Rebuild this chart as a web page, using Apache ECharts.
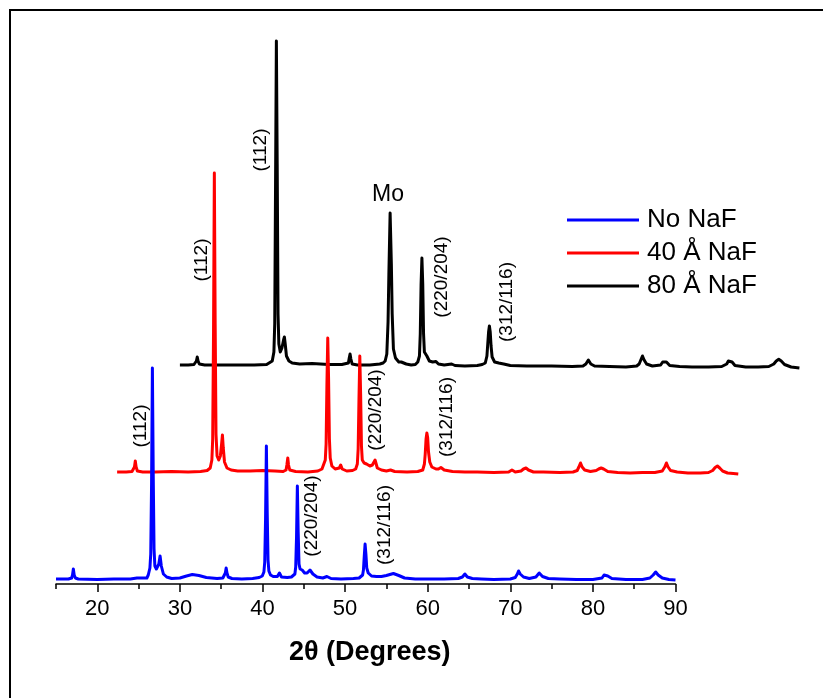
<!DOCTYPE html>
<html>
<head>
<meta charset="utf-8">
<script src="https://cdn.jsdelivr.net/npm/echarts@6/dist/echarts.min.js"></script>
<style>
html,body{margin:0;padding:0;background:#fff;}
#chart{width:823px;height:698px;}
</style>
</head>
<body>
<div id="chart"></div>
<script>
// ---- data (2θ in degrees, intensity in arbitrary offset units) ----
const seriesNames = ['No NaF', '40 Å NaF', '80 Å NaF'];
const majorTicks = [20, 30, 40, 50, 60, 70, 80, 90];
const minorTicks = [15, 25, 35, 45, 55, 65, 75, 85];

const noNaF = [
  [15.0,5],[16.5,5],[16.9,6],[17.0,9],[17.1,15],[17.2,9],[17.35,6],[17.7,5],[20,4.5],[22,5],[24,5],
  [24.8,6],[25,5],[26.0,6],[26.17,9],[26.37,16],[26.47,30],[26.57,100],[26.67,216],[26.77,110],
  [26.87,35],[26.97,18],[27.15,15],[27.3,14],[27.45,20],[27.6,28],[27.75,18],[28.0,10],[28.4,7],
  [29.0,5.5],[30.0,6],[30.8,8],[31.5,9.5],[32.3,8.5],[33.2,6.5],[34.5,5.5],[35.2,6],[35.4,7],[35.5,11],
  [35.6,16],[35.7,11],[35.85,7],[36.3,5.5],[37.5,5],[38.8,5.5],[39.6,6.5],[39.97,8],[40.17,12],
  [40.27,22],[40.37,65],[40.47,138],[40.57,72],[40.67,24],[40.77,13],[40.97,9],[41.3,7.5],[41.8,7.5],
  [42.05,11],[42.3,7],[43.0,6.5],[43.5,7],[43.72,7.5],[43.92,10],[44.02,17],[44.12,47],[44.22,98],
  [44.32,52],[44.42,20],[44.55,15],[44.8,14],[45.1,11],[45.4,11],[45.75,14],[46.1,10],[46.6,7],
  [47.3,6],[47.8,7.5],[48.3,5.5],[49.5,5],[51.0,5.5],[51.7,6],[51.92,6.5],[52.12,9],[52.22,14],
  [52.32,28],[52.42,40],[52.52,30],[52.62,16],[52.8,11],[53.2,8],[53.8,7.5],[54.4,7.5],[55.0,8.5],
  [55.85,10.5],[56.5,8.5],[57.2,6],[58.5,5],[60,5],[62,5],[63.7,5.5],[64.2,7],[64.5,10],[64.8,7],
  [65.4,5.5],[66.5,5],[68,4.5],[70,5],[70.6,6.5],[70.85,10],[71.0,13],[71.2,10],[71.6,7],[72.3,5.5],
  [73.1,7],[73.5,11],[73.9,7.5],[74.6,5.5],[76,5],[78,4.5],[80,4.5],[81.1,6],[81.35,9],[81.55,11],
  [81.8,8],[82.3,5.5],[84,4.5],[86,4.5],[86.9,6],[87.3,9],[87.6,12],[87.9,9],[88.4,6],[89.2,4.5],[90,4]
];

const naF40 = [
  [22.4,112],[23.5,112],[24.2,112.5],[24.4,113],[24.5,117],[24.6,123],[24.7,117],[24.85,113],[25.5,112],
  [27,112],[29,112.5],[31,112],[32.5,112.5],[33.3,113.5],[33.67,116],[33.87,124],[33.97,145],
  [34.07,250],[34.17,411],[34.27,260],[34.37,150],[34.5,128],[34.7,124],[34.9,128],[35.05,140],
  [35.15,149],[35.25,136],[35.4,122],[35.7,116],[36.2,114],[37,113],[38.5,113],[40,113.5],[41.5,113],
  [42.5,112.5],[42.85,114],[42.95,119],[43.06,126],[43.15,119],[43.3,114],[44,112.5],[45.5,112],
  [46.7,113],[47.2,115],[47.4,116],[47.6,124],[47.7,140],[47.8,200],[47.9,246],[48.0,205],[48.1,145],
  [48.2,126],[48.4,118],[48.8,115],[49.3,116],[49.47,119],[49.65,115],[50.2,113],[50.9,113.5],
  [51.28,115],[51.48,120],[51.58,135],[51.68,185],[51.78,228],[51.88,190],[51.98,138],[52.08,124],
  [52.3,121],[52.6,120],[53.0,118],[53.3,119],[53.63,124],[53.9,116],[54.4,114],[55.0,113],
  [55.5,114],[56.0,112.5],[57.5,112],[58.8,112.5],[59.4,114],[59.6,120],[59.7,130],[59.8,145],
  [59.9,151],[60.0,146],[60.1,132],[60.25,122],[60.5,117],[61.0,115],[61.3,115],[61.6,116.5],
  [62.0,114],[63,112.5],[64.5,112],[66,112],[68,111.5],[69.8,112],[70.2,114],[70.6,112],[71.3,113],
  [71.6,115],[71.9,116],[72.2,114],[72.8,112],[74,112],[76,111.5],[77.6,112],[78.1,113.5],[78.3,117],
  [78.5,121],[78.7,117],[79.0,114],[79.7,112.5],[80.4,113.5],[80.7,115],[81.0,116],[81.3,115],
  [81.8,112.5],[83,111.5],[84.5,111],[86,111.5],[87.5,111.5],[88.4,113],[88.7,117],[88.9,121],
  [89.1,117],[89.4,113.5],[90.2,112],[91.5,111],[93,111],[94.0,111.5],[94.5,113.5],[94.8,116.5],
  [95.07,118],[95.35,116],[95.7,113],[96.3,111],[97.0,110.5],[97.6,110]
];

const naF80 = [
  [30.0,219],[31,219],[31.7,219.5],[31.9,220],[32.0,223],[32.1,227],[32.2,223],[32.35,220],[33,219],
  [35,219],[37,219],[39,219],[40.5,219.5],[41.18,223],[41.38,232],[41.48,260],[41.58,400],[41.68,543],
  [41.78,420],[41.88,270],[41.98,240],[42.15,232],[42.35,236],[42.55,244],[42.65,247],[42.75,240],
  [42.9,228],[43.2,223],[43.6,221],[44.5,220],[46,220.5],[48,219.5],[49.6,219.5],[50.4,221],[50.5,226],
  [50.6,230],[50.7,225],[50.85,220],[51.5,219],[53.0,219],[54.2,220],[54.6,221],[54.85,223],[55.05,230],
  [55.2,262],[55.3,310],[55.45,371],[55.6,320],[55.7,270],[55.85,235],[56.1,226],[56.5,222],[56.8,222],
  [57.0,223],[57.4,220],[58.0,219],[58.5,219.5],[58.8,222],[59.0,228],[59.1,250],[59.2,300],[59.3,326],
  [59.4,300],[59.5,250],[59.6,232],[59.75,230],[59.9,228],[60.2,223],[60.6,222],[61.0,222.5],
  [61.3,220],[62.0,219],[62.9,220],[63.3,218.5],[64.5,218],[66.0,218.5],[66.6,219.5],[66.97,221],
  [67.17,228],[67.27,240],[67.37,252],[67.47,258],[67.57,252],[67.67,238],[67.8,227],[68.1,222],
  [68.6,221],[69.2,220],[70,218.5],[72,218],[75,218],[77.5,217.5],[78.8,218],[79.15,220],[79.45,224],
  [79.75,220],[80.2,218],[82,217.5],[84,217],[85.3,218],[85.6,220],[85.8,224],[86.0,228],[86.2,224],
  [86.5,220],[87.2,218],[88.2,219],[88.45,222],[88.65,224],[88.9,222],[89.3,218.5],[90.5,217.5],
  [92,217],[94,217],[95.6,217.5],[96.2,220],[96.4,223],[96.6,225],[96.85,222],[97.2,218.5],[98.5,217],
  [100,217],[101.3,217.5],[101.9,220],[102.2,223],[102.5,224.7],[102.8,223],[103.2,219.5],[104,217],
  [105,216]
];

// peak annotations: [text, pixel x, pixel y, rotated]
const annotations = [
  ['(112)', 141, 426, true],
  ['(220/204)', 312, 516, true],
  ['(312/116)', 385, 525, true],
  ['(112)', 202, 260, true],
  ['(220/204)', 376, 410, true],
  ['(312/116)', 447, 417, true],
  ['(112)', 261, 150, true],
  ['Mo', 388, 195, false],
  ['(220/204)', 442, 277, true],
  ['(312/116)', 507, 302, true]
];

const FONT = 'Liberation Sans, Arial, Helvetica, sans-serif';
const chart = echarts.init(document.getElementById('chart'), null, {renderer: 'canvas'});

const graphics = [{
  type: 'rect', z: 100,
  shape: {x: 10, y: 10, width: 830, height: 700},
  style: {fill: 'none', stroke: '#000', lineWidth: 2}
}];
annotations.forEach(a => {
  graphics.push({
    type: 'text', z: 100,
    x: a[1], y: a[2],
    rotation: a[3] ? Math.PI / 2 : 0,
    style: {
      text: a[0], fill: '#000',
      font: (a[3] ? '19px ' : '23px ') + FONT,
      align: 'center', verticalAlign: 'middle'
    }
  });
});

function lineSeries(name, data, color, z) {
  return {
    name: name, type: 'line', data: data,
    xAxisIndex: 0, yAxisIndex: 0,
    symbol: 'none', showSymbol: false, clip: false, smooth: false,
    z: z,
    lineStyle: {color: color, width: 3, join: 'round'},
    itemStyle: {color: color},
    emphasis: {disabled: true}
  };
}

// grid 0 carries the data on a 15–105 scale (same px/degree as the visible 15–90 axis of grid 1)
chart.setOption({
  animation: false,
  backgroundColor: '#fff',
  grid: [
    {left: 56, right: 23.6, top: 34, bottom: 114, containLabel: false},
    {left: 56, right: 147.5, top: 34, bottom: 114, containLabel: false}
  ],
  legend: {
    data: seriesNames,
    orient: 'vertical',
    left: 567, top: 207, padding: 0,
    icon: 'rect',
    itemWidth: 72, itemHeight: 3, itemGap: 7,
    textStyle: {fontSize: 26, fontFamily: FONT, color: '#000', lineHeight: 26, padding: [0, 0, 0, 3]},
    selectedMode: false
  },
  xAxis: [{
    gridIndex: 0, type: 'value', min: 15, max: 105, show: false, splitLine: {show: false}
  }, {
    gridIndex: 1, type: 'value', min: 15, max: 90, position: 'bottom',
    name: '2θ (Degrees)', nameLocation: 'middle', nameGap: 55,
    nameTextStyle: {fontSize: 27, fontWeight: 'bold', fontFamily: FONT, color: '#000', padding: [0, 0, 0, 8]},
    axisLine: {show: true, onZero: false, lineStyle: {color: '#000', width: 1.5}},
    axisTick: {show: true, inside: false, length: 8, customValues: majorTicks, lineStyle: {color: '#000', width: 1.5}},
    axisLabel: {show: true, customValues: majorTicks, fontSize: 22, fontFamily: FONT, color: '#000', margin: 14},
    splitLine: {show: false}
  }, {
    gridIndex: 1, type: 'value', min: 15, max: 90, position: 'bottom',
    axisLine: {show: false},
    axisTick: {show: true, inside: false, length: 5, customValues: minorTicks, lineStyle: {color: '#000', width: 1.5}},
    axisLabel: {show: false},
    splitLine: {show: false}
  }],
  yAxis: [
    {gridIndex: 0, type: 'value', min: 0, max: 550, show: false, splitLine: {show: false}},
    {gridIndex: 1, type: 'value', min: 0, max: 550, show: false, splitLine: {show: false}}
  ],
  series: [
    lineSeries(seriesNames[2], naF80, '#000000', 2),
    lineSeries(seriesNames[1], naF40, '#ff0000', 3),
    lineSeries(seriesNames[0], noNaF, '#0000ff', 4)
  ],
  graphic: graphics
});
</script>
</body>
</html>
